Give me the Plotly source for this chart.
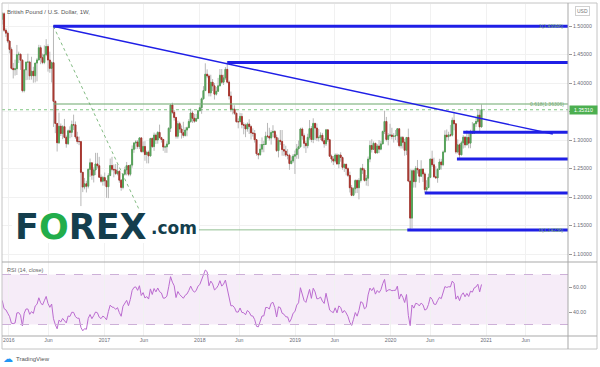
import numpy as np
import pandas as pd
import plotly.graph_objects as go

W, H = 600, 367

# ---------------- data (weekly GBP/USD, weeks starting Monday) ----------------
first_open = 1.5290

high_2015 = [1.5415,1.5590,1.5930,1.5890,1.5760,1.5600,1.5675,1.5675,1.5690,1.5630,1.5655,1.5818,1.5740,1.5425,
             1.5485,1.5660,1.5515,1.5250,1.5388,1.5509,1.5508,1.5460,1.5507,1.5260,1.5335,1.5238,1.5127,1.5243,1.5240,1.4960,1.4905]
low_2015 = [1.5170,1.5260,1.5565,1.5660,1.5535,1.5330,1.5460,1.5460,1.5470,1.5410,1.5440,1.5570,1.5330,1.5160,
            1.5165,1.5410,1.5165,1.5107,1.5150,1.5240,1.5321,1.5240,1.5027,1.5027,1.5169,1.5025,1.4895,1.5026,1.4895,1.4805,1.4700]
close_2015 = [1.5280,1.5575,1.5880,1.5745,1.5590,1.5510,1.5600,1.5505,1.5605,1.5465,1.5640,1.5700,1.5410,1.5170,
              1.5430,1.5493,1.5190,1.5185,1.5335,1.5463,1.5336,1.5427,1.5040,1.5232,1.5185,1.5040,1.5120,1.5215,1.4925,1.4875,1.4736]

high_2016 = [1.4750,1.4625,1.4352,1.4410,1.4668,1.4550,1.4515,1.4420,1.4240,1.4370,
             1.4515,1.4390,1.4460,1.4285,1.4350,1.4440,1.4670,1.4660,1.4515,1.4660,
             1.4770,1.4680,1.4550,1.4380,1.5018,1.3690,1.3300,1.3480,1.3290,1.3260,
             1.3370,1.3080,1.3185,1.3240,1.3340,1.3445,1.3325,1.3145,1.3060,1.2975,
             1.2440,1.2335,1.2285,1.2505,1.2675,1.2600,1.2520,1.2775,1.2775,1.2705,
             1.2395,1.2370]
low_2016 = [1.4520,1.4235,1.4080,1.4130,1.4140,1.4350,1.4230,1.3835,1.3835,1.4050,
            1.4055,1.4055,1.4060,1.4005,1.4010,1.4030,1.4395,1.4330,1.4330,1.4330,
            1.4470,1.4200,1.4180,1.4010,1.3229,1.3120,1.2798,1.2930,1.3070,1.3015,
            1.3030,1.2865,1.2915,1.3030,1.3050,1.3175,1.3020,1.2935,1.2910,1.1841,
            1.2086,1.2135,1.2080,1.2150,1.2355,1.2302,1.2255,1.2385,1.2500,1.2335,
            1.2250,1.2200]
close_2016 = [1.4590,1.4257,1.4234,1.4249,1.4497,1.4505,1.4400,1.3866,1.4230,1.4367,
              1.4367,1.4126,1.4207,1.4128,1.4350,1.4405,1.4619,1.4443,1.4361,1.4497,
              1.4641,1.4403,1.4257,1.4357,1.3679,1.3290,1.2952,1.3242,1.3114,1.3234,
              1.3046,1.2935,1.3161,1.3134,1.3270,1.3266,1.3054,1.2975,1.2972,1.2433,
              1.2175,1.2232,1.2190,1.2485,1.2600,1.2383,1.2474,1.2580,1.2549,1.2347,
              1.2276,1.2341]

high_2017 = [1.2430,1.2290,1.2417,1.2675,1.2705,1.2570,1.2580,1.2570,1.2470,1.2315,
             1.2410,1.2530,1.2615,1.2560,1.2560,1.2905,1.2965,1.3000,1.3000,1.3045,
             1.3050,1.2975,1.2980,1.2815,1.2815,1.3030,1.3045,1.3130,1.3115,1.3155,
             1.3270,1.3055,1.3015,1.2905,1.2980,1.3225,1.3615,1.3655,1.3525,1.3405,
             1.3340,1.3320,1.3255,1.3320,1.3225,1.3235,1.3365,1.3550,1.3515,1.3455,
             1.3460,1.3525]
low_2017 = [1.2198,1.1986,1.1980,1.2376,1.2450,1.2345,1.2385,1.2380,1.2250,1.2110,
            1.2135,1.2375,1.2380,1.2365,1.2365,1.2515,1.2775,1.2840,1.2845,1.2840,
            1.2775,1.2770,1.2635,1.2590,1.2590,1.2710,1.2860,1.2810,1.2930,1.2935,
            1.3030,1.2955,1.2810,1.2775,1.2775,1.2930,1.3140,1.3455,1.3340,1.3025,
            1.3025,1.3125,1.3025,1.3040,1.3060,1.3065,1.3210,1.3300,1.3300,1.3300,
            1.3330,1.3370]
close_2017 = [1.2283,1.2180,1.2376,1.2553,1.2486,1.2477,1.2411,1.2451,1.2295,1.2169,
              1.2400,1.2477,1.2550,1.2400,1.2560,1.2837,1.2947,1.2964,1.2885,1.3037,
              1.2798,1.2887,1.2745,1.2785,1.2721,1.3028,1.2884,1.3086,1.3000,1.3134,
              1.3041,1.3010,1.2877,1.2880,1.2930,1.3206,1.3614,1.3486,1.3396,1.3066,
              1.3286,1.3193,1.3128,1.3081,1.3175,1.3215,1.3325,1.3474,1.3382,1.3331,
              1.3376,1.3513]

high_2018 = [1.3615,1.3745,1.3945,1.4345,1.4240,1.4150,1.4145,1.4070,1.4000,1.3930,
             1.4090,1.4245,1.4245,1.4145,1.4280,1.4377,1.4045,1.3850,1.3615,1.3610,
             1.3475,1.3380,1.3475,1.3470,1.3310,1.3290,1.3310,1.3365,1.3260,1.3205,
             1.3175,1.3010,1.2775,1.2930,1.3045,1.2985,1.3145,1.3300,1.3215,1.3170,
             1.3260,1.3175,1.3095,1.3040,1.3175,1.3175,1.2930,1.2900,1.2840,1.2760,
             1.2710,1.2755,1.2815]
low_2018 = [1.3500,1.3460,1.3710,1.3865,1.4085,1.3765,1.3765,1.3860,1.3710,1.3780,
            1.3845,1.3945,1.3980,1.3965,1.4055,1.3995,1.3710,1.3490,1.3450,1.3440,
            1.3305,1.3205,1.3315,1.3205,1.3100,1.3050,1.3145,1.3105,1.3010,1.3060,
            1.2955,1.2725,1.2662,1.2730,1.2785,1.2785,1.2915,1.3030,1.2990,1.2920,
            1.3050,1.3010,1.2790,1.2695,1.2915,1.2725,1.2720,1.2705,1.2660,1.2477,
            1.2575,1.2600,1.2405]
close_2018 = [1.3567,1.3723,1.3867,1.4154,1.4123,1.3827,1.4013,1.3950,1.3804,1.3855,
              1.3950,1.4136,1.4014,1.4090,1.4240,1.4015,1.3772,1.3535,1.3541,1.3470,
              1.3321,1.3320,1.3414,1.3270,1.3260,1.3194,1.3280,1.3235,1.3125,1.3115,
              1.3005,1.2760,1.2740,1.2840,1.2920,1.2922,1.3069,1.3067,1.3035,1.3132,
              1.3150,1.3045,1.2814,1.2995,1.2975,1.2832,1.2806,1.2737,1.2733,1.2586,
              1.2633,1.2717,1.2742]

high_2019 = [1.2930,1.2990,1.3215,1.3220,1.3115,1.2985,1.3110,1.3350,1.3245,1.3381,
             1.3300,1.3290,1.3195,1.3135,1.3125,1.3035,1.3195,1.3185,1.3020,1.2745,
             1.2720,1.2765,1.2765,1.2750,1.2785,1.2710,1.2580,1.2580,1.2520,1.2445,
             1.2210,1.2170,1.2310,1.2310,1.2330,1.2505,1.2580,1.2510,1.2385,1.2710,
             1.2990,1.3013,1.2975,1.2955,1.2930,1.3000,1.2985,1.3165,1.3514,1.3405,
             1.3120,1.3285]
low_2019 = [1.2670,1.2670,1.2865,1.3005,1.2855,1.2773,1.2855,1.3005,1.2960,1.2945,
            1.3000,1.2980,1.2975,1.3000,1.2960,1.2865,1.2895,1.2965,1.2710,1.2605,
            1.2560,1.2600,1.2570,1.2505,1.2620,1.2480,1.2440,1.2380,1.2350,1.2080,
            1.2015,1.2015,1.2065,1.2070,1.1959,1.2255,1.2405,1.2270,1.2200,1.2190,
            1.2610,1.2780,1.2825,1.2765,1.2770,1.2770,1.2820,1.2925,1.3105,1.2975,
            1.2905,1.3050]
close_2019 = [1.2844,1.2882,1.3193,1.3075,1.2941,1.2900,1.3047,1.3200,1.3009,1.3292,
              1.3210,1.3038,1.3047,1.3083,1.2989,1.2932,1.3178,1.3005,1.2716,1.2666,
              1.2631,1.2736,1.2580,1.2737,1.2693,1.2521,1.2575,1.2498,1.2380,1.2162,
              1.2030,1.2145,1.2290,1.2163,1.2290,1.2505,1.2475,1.2292,1.2330,1.2665,
              1.2903,1.2836,1.2941,1.2773,1.2895,1.2840,1.2932,1.3150,1.3325,1.3010,
              1.3080,1.3088]

high_2020 = [1.3215,1.3120,1.3175,1.3210,1.3205,1.3070,1.3070,1.3020,1.3040,1.3200,
             1.2485,1.2485,1.2485,1.2545,1.2650,1.2480,1.2645,1.2500,1.2435,1.2295,
             1.2410,1.2675,1.2813,1.2690,1.2540,1.2505,1.2670,1.2670,1.2815,1.3170,
             1.3185,1.3145,1.3265,1.3395,1.3482,1.3285,1.3010,1.2940,1.2985,1.3085,
             1.3065,1.3175,1.3140,1.3180,1.3315,1.3300,1.3400,1.3540,1.3540,1.3625]
low_2020 = [1.3010,1.2955,1.3000,1.2955,1.2870,1.2850,1.2850,1.2725,1.2735,1.2260,
            1.1409,1.1450,1.2165,1.2165,1.2410,1.2250,1.2355,1.2265,1.2075,1.2075,
            1.2160,1.2330,1.2525,1.2335,1.2335,1.2250,1.2475,1.2480,1.2540,1.2780,
            1.2980,1.2990,1.3055,1.3060,1.3170,1.2760,1.2765,1.2675,1.2735,1.2850,
            1.2865,1.2910,1.2855,1.2855,1.3105,1.3105,1.3230,1.3290,1.3135,1.3220]
close_2020 = [1.3062,1.3072,1.3075,1.3197,1.2900,1.3045,1.2960,1.2820,1.3045,1.2280,
              1.1630,1.2460,1.2270,1.2503,1.2480,1.2365,1.2490,1.2405,1.2130,1.2165,
              1.2345,1.2665,1.2565,1.2355,1.2335,1.2485,1.2615,1.2566,1.2790,1.3085,
              1.3057,1.3090,1.3085,1.3345,1.3285,1.2790,1.2915,1.2740,1.2950,1.3050,
              1.2915,1.3045,1.2945,1.3150,1.3120,1.3285,1.3325,1.3435,1.3230,1.3531]

first_week = "2015-06-01"
last_price = 1.35310

# drawn horizontal levels (price, start date)
level_prices = [1.4995, 1.4360, 1.3135, 1.2667, 1.2070, 1.1421]
level_starts = ["2016-06-20", "2018-04-16", "2020-10-05", "2020-09-11", "2020-05-11", "2020-03-05"]

# trend line points
trend_dates = ["2016-06-20", "2021-09-13"]
trend_prices = [1.4995, 1.3105]

# fib retracement
fib_labels = ["1(1.49946)", "0.618(1.36306)", "0(1.14238)"]
fib_prices = [1.49946, 1.36306, 1.14238]
fib_start = "2016-06-20"
fib_diag_dates = ["2016-06-20", "2017-06-19"]

# axes
x_range = ["2015-12-06", "2021-11-10"]
tick_dates = ["2016-01-01", "2016-06-01", "2017-01-01", "2017-06-01", "2018-01-01", "2018-06-01",
              "2019-01-01", "2019-06-01", "2020-01-01", "2020-06-01", "2021-01-01", "2021-06-01"]
tick_labels = ["2016", "Jun", "2017", "Jun", "2018", "Jun", "2019", "Jun", "2020", "Jun", "2021", "Jun"]
price_ticks = [1.10, 1.15, 1.20, 1.25, 1.30, 1.35, 1.40, 1.45, 1.50]
rsi_ticks = [40, 60]

# ---------------- build series ----------------
high = high_2015 + high_2016 + high_2017 + high_2018 + high_2019 + high_2020
low = low_2015 + low_2016 + low_2017 + low_2018 + low_2019 + low_2020
close = close_2015 + close_2016 + close_2017 + close_2018 + close_2019 + close_2020
opens = [first_open] + close[:-1]
dates = pd.date_range(first_week, periods=len(close), freq="7D")
o = np.array(opens); c = np.array(close)
h = np.maximum(np.array(high), np.maximum(o, c))
l = np.minimum(np.array(low), np.minimum(o, c))


def rsi(values, n=14):
    v = np.asarray(values, dtype=float)
    d = np.diff(v)
    up = np.where(d > 0, d, 0.0)
    dn = np.where(d < 0, -d, 0.0)
    au = up[:n].mean(); ad = dn[:n].mean()
    out = [100 - 100 / (1 + au / ad) if ad > 0 else 100.0]
    for i in range(n, len(d)):
        au = (au * (n - 1) + up[i]) / n
        ad = (ad * (n - 1) + dn[i]) / n
        out.append(100 - 100 / (1 + au / ad) if ad > 0 else 100.0)
    return np.array(out)


rsi_vals = rsi(close)
rsi_dates = dates[14:]


def px(x):
    return x / W


def py(y):
    return 1 - y / H


GREEN = "#56a35a"
RED = "#a8362e"
WICK = "#b8b8b8"
BLUE = "#1f1fe6"
FIBC = "rgba(110,170,110,0.75)"
GRID = "#f1f1f1"
TXT = "#6a6d78"

fig = go.Figure()
fig.add_trace(go.Candlestick(
    x=dates, open=o, high=h, low=l, close=c, xaxis="x", yaxis="y",
    increasing=dict(line=dict(color=WICK, width=1), fillcolor=WICK),
    decreasing=dict(line=dict(color=WICK, width=1), fillcolor=WICK),
    hoverinfo="skip", showlegend=False))
fig.add_trace(go.Candlestick(
    x=dates, open=o, high=np.maximum(o, c), low=np.minimum(o, c), close=c, xaxis="x", yaxis="y",
    increasing=dict(line=dict(color=GREEN, width=1), fillcolor=GREEN),
    decreasing=dict(line=dict(color=RED, width=1), fillcolor=RED),
    hoverinfo="skip", showlegend=False))
fig.add_trace(go.Scatter(
    x=rsi_dates, y=rsi_vals, xaxis="x", yaxis="y2", mode="lines",
    line=dict(color="#bb6bd0", width=1), hoverinfo="skip", showlegend=False))

shapes = []
# RSI band
shapes.append(dict(type="rect", xref="x", yref="y2", x0=x_range[0], x1=x_range[1], y0=30, y1=70,
                   fillcolor="rgba(155,39,176,0.09)", line=dict(width=0), layer="below"))
for lv in (30, 70):
    shapes.append(dict(type="line", xref="x", yref="y2", x0=x_range[0], x1=x_range[1], y0=lv, y1=lv,
                       line=dict(color="#cdb0d8", width=1, dash="dash"), layer="above"))
# fib lines
for fp, lw in zip(fib_prices, [1, 2, 1]):
    shapes.append(dict(type="line", xref="x", yref="y", x0=fib_start, x1=x_range[1], y0=fp, y1=fp,
                       line=dict(color=FIBC if lw == 1 else "rgba(120,175,120,0.55)", width=lw), layer="above"))
shapes.append(dict(type="line", xref="x", yref="y", x0=fib_diag_dates[0], x1=fib_diag_dates[1],
                   y0=fib_prices[0], y1=fib_prices[2],
                   line=dict(color="rgba(100,170,100,0.8)", width=1, dash="dot"), layer="above"))
# last price line
shapes.append(dict(type="line", xref="x", yref="y", x0=x_range[0], x1=x_range[1], y0=last_price, y1=last_price,
                   line=dict(color="rgba(76,175,80,0.7)", width=1, dash="dot"), layer="above"))
# trend line
shapes.append(dict(type="line", xref="x", yref="y", x0=trend_dates[0], x1=trend_dates[1],
                   y0=trend_prices[0], y1=trend_prices[1], line=dict(color=BLUE, width=1.4), layer="above"))
# horizontal levels
for lp, ls in zip(level_prices, level_starts):
    shapes.append(dict(type="line", xref="x", yref="y", x0=ls, x1=x_range[1], y0=lp, y1=lp,
                       line=dict(color=BLUE, width=3), layer="above"))
# logo backdrop
shapes.append(dict(type="rect", xref="paper", yref="paper", x0=px(12), x1=px(199), y0=py(243), y1=py(211),
                   fillcolor="white", line=dict(width=0), layer="above"))
# frame lines
FR = "#c4c4c4"
for (x0, y0, x1, y1, col) in [(2, 3, 597, 3, FR), (2, 349, 597, 349, FR), (2, 3, 2, 349, FR), (597, 3, 597, 349, FR),
                              (2, 262, 597, 262, "#a9a9a9"), (2, 336, 597, 336, "#a9a9a9"), (568, 3, 568, 349, "#a9a9a9")]:
    shapes.append(dict(type="line", xref="paper", yref="paper", x0=px(x0), x1=px(x1), y0=py(y0), y1=py(y1),
                       line=dict(color=col, width=1), layer="above"))

ann = []
ann.append(dict(text="British Pound / U.S. Dollar, 1W,", x=px(5), y=py(12), xref="paper", yref="paper",
                xanchor="left", yanchor="middle", showarrow=False, font=dict(size=6, color="#555")))
ann.append(dict(text="RSI (14, close)", x=px(5), y=py(270), xref="paper", yref="paper",
                xanchor="left", yanchor="middle", showarrow=False, font=dict(size=5.5, color="#666")))
ann.append(dict(text="USD", x=px(582), y=py(10.5), xref="paper", yref="paper", xanchor="center", yanchor="middle",
                showarrow=False, font=dict(size=5, color="#777"), bordercolor="#d0d0d0", borderwidth=1, borderpad=1,
                bgcolor="white"))
ann.append(dict(text="1.35310", x=px(569), y=last_price, xref="paper", yref="y", xanchor="left", yanchor="middle",
                showarrow=False, font=dict(size=5.2, color="white"), bgcolor="#4caf50", width=25, height=6,
                borderpad=1))
for fl, fp in zip(fib_labels, fib_prices):
    ann.append(dict(text=fl, x=px(566), y=fp, xref="paper", yref="y", xanchor="right", yanchor="middle",
                    showarrow=False, font=dict(size=5, color="#73a873")))
ann.append(dict(text="☁", x=px(8), y=py(358), xref="paper", yref="paper", xanchor="center", yanchor="middle",
                showarrow=False, font=dict(size=10, color="#2196f3")))
ann.append(dict(text="TradingView", x=px(14), y=py(358.5), xref="paper", yref="paper", xanchor="left",
                yanchor="middle", showarrow=False, font=dict(size=6, color="#555")))
DARK = "#143e4d"
LOGO_G = "#22ad4b"
ann.append(dict(text="<b>F<span style='color:%s'>O</span>REX</b>" % LOGO_G, x=px(13), y=py(227),
                xref="paper", yref="paper", xanchor="left", yanchor="middle", showarrow=False,
                font=dict(size=35, color=DARK, family="DejaVu Sans")))
ann.append(dict(text="<b>.com</b>", x=px(149), y=py(228), xref="paper", yref="paper", xanchor="left",
                yanchor="middle", showarrow=False, font=dict(size=17, color=DARK, family="DejaVu Sans")))

fig.update_layout(
    width=W, height=H, autosize=False, margin=dict(l=0, r=0, t=0, b=0),
    paper_bgcolor="white", plot_bgcolor="white", showlegend=False,
    font=dict(family="Liberation Sans, Arial, sans-serif", color=TXT, size=6),
    xaxis=dict(type="date", domain=[px(2), px(568)], range=x_range, anchor="y2",
               tickvals=tick_dates, ticktext=tick_labels, showgrid=True, gridcolor=GRID, gridwidth=1,
               ticks="", tickfont=dict(size=5.2, color=TXT), showline=False, zeroline=False,
               rangeslider=dict(visible=False), fixedrange=True),
    yaxis=dict(domain=[py(262), py(4)], range=[1.0860, 1.5386], side="right", anchor="x",
               tickvals=price_ticks, ticktext=["%.5f" % v for v in price_ticks], ticks="outside", ticklen=3,
               tickcolor="#999", showgrid=True, gridcolor=GRID, zeroline=False, showline=False,
               tickfont=dict(size=5.2, color=TXT)),
    yaxis2=dict(domain=[py(336), py(262)], range=[20.8, 80], side="right", anchor="x",
                tickvals=rsi_ticks, ticktext=["%.2f" % v for v in rsi_ticks], ticks="outside", ticklen=3,
                tickcolor="#999", showgrid=False, zeroline=False, showline=False,
                tickfont=dict(size=5.2, color=TXT)),
    shapes=shapes, annotations=ann,
)

fig.write_html("out.html")
